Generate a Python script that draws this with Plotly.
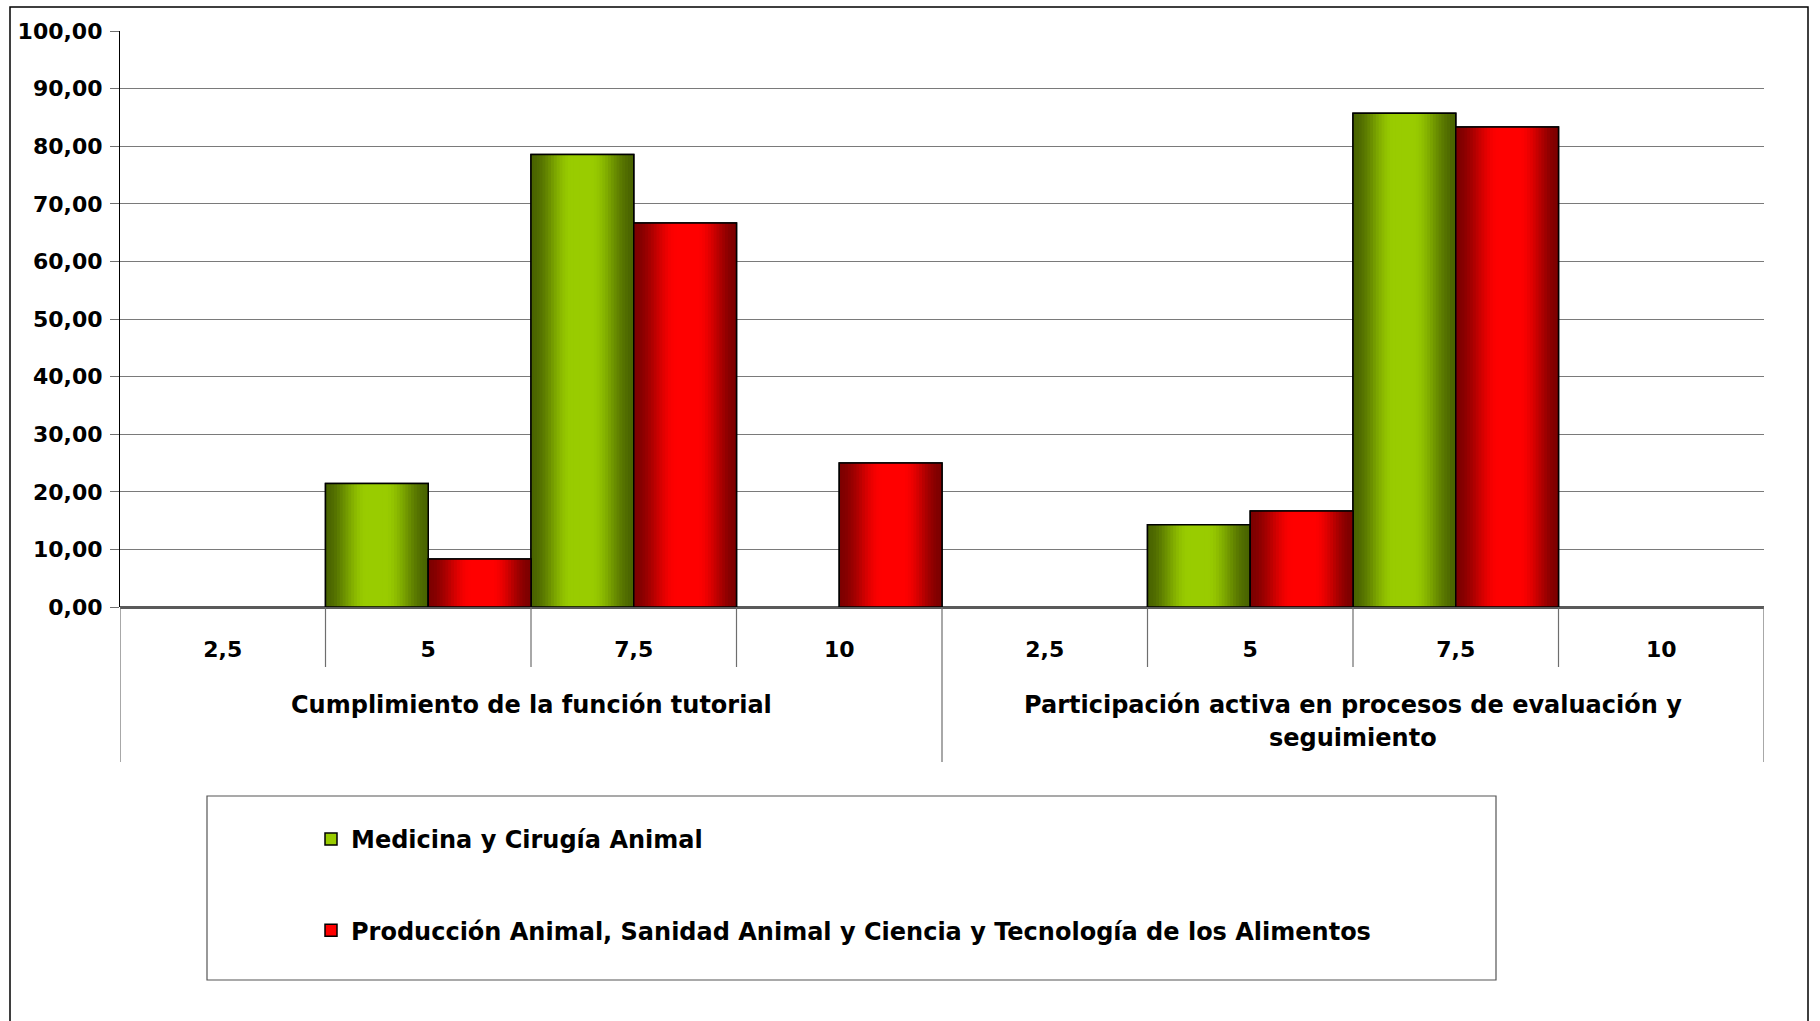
import plotly.graph_objects as go

# ---------------- data ----------------
groups = ["Cumplimiento de la función tutorial",
          "Participación activa en procesos de evaluación y<br>seguimiento"]
sub_labels = ["2,5", "5", "7,5", "10"]
series_names = ["Medicina y Cirugía Animal",
                "Producción Animal, Sanidad Animal y Ciencia y Tecnología de los Alimentos"]
medicina = [0.00, 21.43, 78.57, 0.00, 0.00, 14.29, 85.71, 0.00]
produccion = [0.00, 8.33, 66.67, 25.00, 0.00, 16.67, 83.33, 0.00]
y_ticks = [0, 10, 20, 30, 40, 50, 60, 70, 80, 90, 100]

# ---------------- layout constants ----------------
W, H = 1820, 1021
ML, MR, MT, MB = 120, 56, 31, 414
PW = W - ML - MR
PH = H - MT - MB
AXIS_Y = MT + PH  # pixel row of y=0


def py(p):
    """pixel row -> paper y"""
    return (AXIS_Y - p) / PH


def px(p):
    """pixel column -> paper x"""
    return (p - ML) / PW


cats = [f"{g.split('<br>')[0]} | {s}" for g in groups for s in sub_labels]
tick_text = [s for g in groups for s in sub_labels]

FONT = "DejaVu Sans"

green_dark = (74, 100, 0)
green_bright = (153, 204, 0)
red_dark = (125, 0, 0)
red_bright = (255, 0, 0)


def profile(t, lo, hi):
    if t < lo:
        u = t / lo
    elif t > hi:
        u = (1 - t) / (1 - hi)
    else:
        u = 1.0
    return u * u * (3 - 2 * u)


def mix(c1, c2, u):
    return "rgb({},{},{})".format(*[round(a + (b - a) * u) for a, b in zip(c1, c2)])


fig = go.Figure()

series = [
    (series_names[0], medicina, green_dark, green_bright, -0.5, 0.40, 0.58),
    (series_names[1], produccion, red_dark, red_bright, 0.0, 0.42, 0.62),
]
N = 36
for name, vals, dark, bright, off, lo, hi in series:
    yv = [v if v > 0 else None for v in vals]
    # base (legend) trace
    fig.add_trace(go.Bar(
        x=cats, y=yv, name=name, offset=off, width=0.5,
        marker=dict(color=mix(dark, bright, 1.0), line=dict(color="black", width=1.5)),
        legendgroup=name, showlegend=True, hoverinfo="skip"))
    # shading strips
    for i in range(N):
        t = (i + 0.5) / N
        fig.add_trace(go.Bar(
            x=cats, y=yv, offset=off + i * 0.5 / N, width=0.5 - i * 0.5 / N,
            marker=dict(color=mix(dark, bright, profile(t, lo, hi)), line=dict(width=0)),
            legendgroup=name, showlegend=False, hoverinfo="skip"))
    # outline
    fig.add_trace(go.Bar(
        x=cats, y=yv, offset=off, width=0.5,
        marker=dict(color="rgba(0,0,0,0)", line=dict(color="black", width=1.5)),
        legendgroup=name, showlegend=False, hoverinfo="skip"))

shapes = []
# category boundary lines below the axis
n = len(cats)
for k in range(n + 1):
    is_group = (k % len(sub_labels) == 0)
    shapes.append(dict(type="line", xref="x", yref="paper",
                       x0=k - 0.5, x1=k - 0.5, y0=0, y1=py(762 if is_group else 667),
                       line=dict(color="#6e6e6e", width=1.2), layer="above"))
# legend box
shapes.append(dict(type="rect", xref="paper", yref="paper",
                   x0=px(207), x1=px(1496), y0=py(796), y1=py(980),
                   line=dict(color="#555555", width=1.2)))
# outer chart border
shapes.append(dict(type="rect", xref="paper", yref="paper",
                   x0=px(10), x1=px(1808), y0=py(7), y1=py(1040),
                   line=dict(color="black", width=1.5)))

annotations = []
line_centers = [705, 738]
for gi, g in enumerate(groups):
    center = gi * len(sub_labels) + (len(sub_labels) - 1) / 2
    for li, line in enumerate(g.split("<br>")):
        annotations.append(dict(text=line, xref="x", yref="paper", x=center,
                                y=py(line_centers[li]), yanchor="middle", xanchor="center",
                                showarrow=False,
                                font=dict(family=FONT, size=24, color="black", weight="bold")))

fig.update_layout(
    width=W, height=H,
    margin=dict(l=ML, r=MR, t=MT, b=MB, pad=0),
    paper_bgcolor="white", plot_bgcolor="white",
    barmode="overlay",
    separators=", ",
    font=dict(family=FONT, size=21, color="black", weight="bold"),
    shapes=shapes, annotations=annotations,
    legend=dict(x=px(311), y=py(817), xanchor="left", yanchor="top",
                orientation="v", traceorder="grouped", tracegroupgap=57,
                bgcolor="rgba(0,0,0,0)", borderwidth=0,
                font=dict(family=FONT, size=24, color="black", weight="bold")),
    showlegend=True,
)
fig.update_xaxes(type="category", categoryorder="array", categoryarray=cats,
                 tickvals=cats, ticktext=tick_text, range=[-0.5, n - 0.5],
                 showgrid=False, showline=False, zeroline=False, ticks="",
                 ticklabelstandoff=27,
                 tickfont=dict(family=FONT, size=22, color="black", weight="bold"))
fig.update_yaxes(range=[0, 100], tickvals=y_ticks, tickformat=".2f",
                 showgrid=True, gridcolor="#7a7a7a", gridwidth=1.2,
                 zeroline=True, zerolinecolor="#5a5a5a", zerolinewidth=2.5,
                 showline=True, linecolor="black", linewidth=1.2,
                 ticks="outside", ticklen=9, tickcolor="#6e6e6e", tickwidth=1.2,
                 ticklabelstandoff=3,
                 tickfont=dict(family=FONT, size=22, color="black", weight="bold"))

fig.write_html("out.html", config={"displayModeBar": False},
               post_script="document.body.style.margin='0';document.body.style.overflow='hidden';")
